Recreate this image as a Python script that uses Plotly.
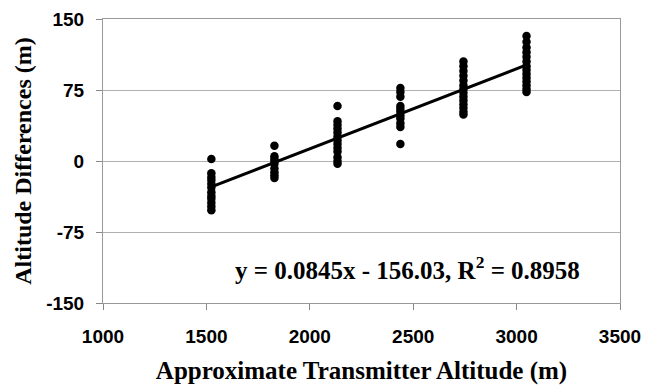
import plotly.graph_objects as go

# Transmitter altitudes (m) and measured altitude differences (m) at each site
site_altitudes = [1524, 1829, 2134, 2438, 2743, 3048]
diff_1524 = [2, -13, -17, -20, -24, -28, -33, -37, -40, -44, -48, -52]
diff_1829 = [16, 5, 2, 0, -3, -8, -12, -15, -18]
diff_2134 = [58, 42, 38, 34, 30, 26, 22, 18, 14, 10, 4, 0, -3]
diff_2438 = [77, 73, 68, 58, 55, 52, 48, 45, 40, 36, 18]
diff_2743 = [105, 100, 95, 90, 85, 80, 76, 72, 68, 64, 60, 56, 52, 49]
diff_3048 = [132, 126, 120, 115, 110, 105, 100, 96, 92, 88, 84, 80, 76, 73]

# Linear fit reported on the chart
slope = 0.0845
intercept = -156.03
r_squared = 0.8958

x_ticks = [1000, 1500, 2000, 2500, 3000, 3500]
y_ticks = [-150, -75, 0, 75, 150]

groups = [diff_1524, diff_1829, diff_2134, diff_2438, diff_2743, diff_3048]
xs, ys = [], []
for alt, vals in zip(site_altitudes, groups):
    xs += [alt] * len(vals)
    ys += vals

fit_x = [site_altitudes[0], site_altitudes[-1]]
fit_y = [slope * v + intercept for v in fit_x]

fig = go.Figure()
fig.add_trace(go.Scatter(
    x=xs, y=ys, mode="markers",
    marker=dict(color="black", size=8.5, line=dict(width=0)),
    showlegend=False,
))
fig.add_trace(go.Scatter(
    x=fit_x, y=fit_y, mode="lines",
    line=dict(color="black", width=3),
    showlegend=False,
))

serif = "Liberation Serif, Times New Roman, serif"
sans = "Liberation Sans, Arial, sans-serif"

fig.add_annotation(
    x=2471, y=-113, xref="x", yref="y", showarrow=False,
    text=f"<b>y = {slope}x - {abs(intercept):.2f}, R<sup>2</sup> = {r_squared}</b>",
    font=dict(family=serif, size=25, color="black"),
)

tick_font = dict(family=sans, size=19, color="black")

fig.update_xaxes(
    range=[1000, 3500], tickvals=x_ticks,
    ticktext=[f"<b>{v}</b>" for v in x_ticks],
    ticks="outside", ticklen=6, ticklabelstandoff=10,
    tickcolor="#888888", tickfont=tick_font, showgrid=False,
    showline=True, linecolor="#999999", linewidth=1, mirror=True, zeroline=False,
    automargin=False,
    title=dict(text="<b>Approximate Transmitter Altitude (m)</b>",
               font=dict(family=serif, size=25, color="black"), standoff=15),
)
fig.update_yaxes(
    range=[-150, 150], tickvals=y_ticks,
    ticktext=[f"<b>{v}</b>" for v in y_ticks],
    ticks="outside", ticklen=6, ticklabelstandoff=8,
    tickcolor="#888888", tickfont=tick_font, showgrid=True, gridcolor="#b0b0b0",
    gridwidth=1, showline=True, linecolor="#999999", linewidth=1, mirror=True,
    zeroline=False, automargin=False,
    title=dict(text="<b>Altitude Differences (m)</b>",
               font=dict(family=serif, size=24, color="black"), standoff=7),
)

fig.update_layout(
    width=646, height=387,
    margin=dict(l=103, r=26, t=19, b=84),
    plot_bgcolor="white", paper_bgcolor="white",
    font=dict(family=sans, color="black"),
)

fig.write_html("out.html")
